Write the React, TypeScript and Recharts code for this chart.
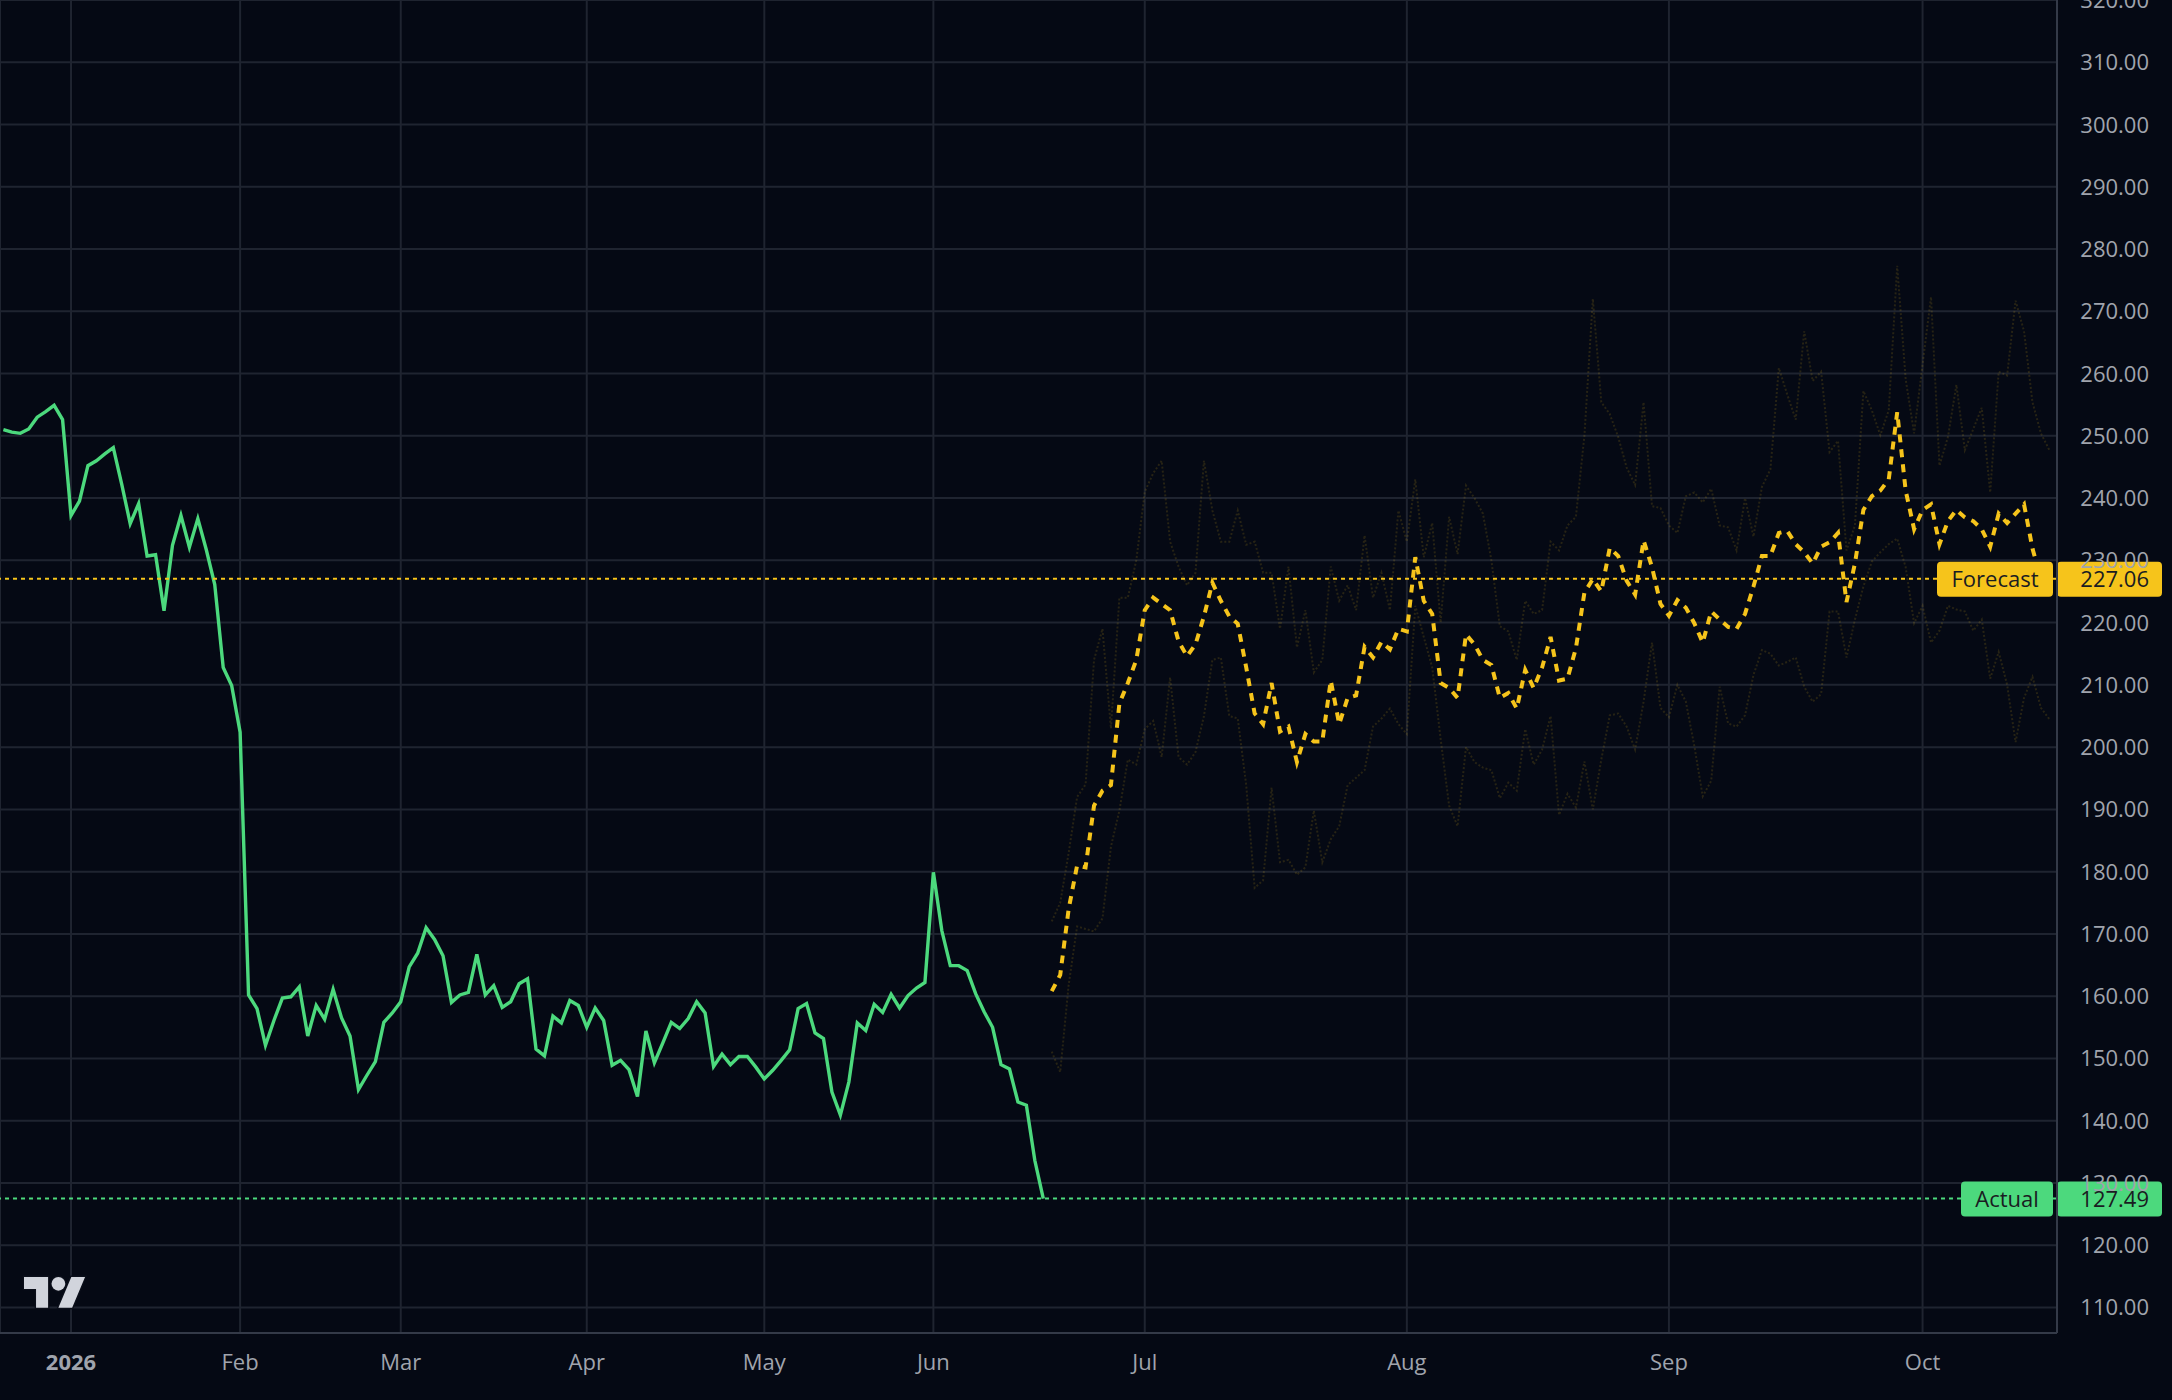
import React from 'react';
import { ComposedChart, Line, XAxis, YAxis, CartesianGrid, ReferenceLine } from 'recharts';

// Bar index based time axis (trading days for actual, calendar days for forecast)
const actualStartIndex = 0;
const actualValues = [
  251.0, 250.6, 250.4, 251.1, 253.0, 253.9, 254.9, 252.6, 237.2, 239.5,
  245.2, 246.0, 247.1, 248.1, 242.2, 235.9, 239.1, 230.7, 230.9, 221.9,
  232.4, 237.2, 232.1, 236.7, 231.7, 226.1, 212.8, 209.9, 202.4, 160.2,
  158.0, 152.1, 156.1, 159.7, 159.9, 161.5, 153.6, 158.5, 156.3, 161.1,
  156.5, 153.6, 145.0, 147.3, 149.5, 155.8, 157.3, 159.1, 164.7, 166.9,
  171.0, 169.1, 166.5, 159.0, 160.2, 160.6, 166.7, 160.2, 161.7, 158.2,
  159.1, 162.0, 162.8, 151.5, 150.4, 156.8, 155.7, 159.3, 158.5, 155.0,
  158.1, 156.1, 148.9, 149.7, 148.2, 143.9, 154.4, 149.3, 152.5, 155.8,
  154.8, 156.4, 159.1, 157.3, 148.7, 150.7, 149.0, 150.3, 150.3, 148.6,
  146.7, 148.1, 149.7, 151.4, 158.0, 158.8, 154.1, 153.2, 144.6, 140.9,
  146.2, 155.7, 154.5, 158.7, 157.4, 160.3, 158.1, 160.1, 161.3, 162.2,
  179.9, 170.5, 164.9, 164.9, 164.1, 160.4, 157.5, 155.0, 149.0, 148.3,
  143.0, 142.5, 133.6, 127.49,
];

const forecastStartIndex = 124;
const forecastValues = [
  160.8, 163.4, 174.0, 181.0, 180.7, 190.6, 193.0, 193.9, 207.0, 210.3,
  214.0, 222.0, 224.0, 223.0, 222.0, 217.0, 214.6, 216.5, 221.0, 226.4,
  223.5, 221.0, 219.8, 212.8, 205.4, 203.7, 210.3, 202.5, 203.3, 197.6,
  202.1, 200.9, 200.9, 210.7, 203.7, 207.9, 208.3, 216.1, 214.4, 216.9,
  215.7, 219.0, 218.6, 230.5, 223.5, 221.4, 210.3, 209.5, 207.9, 218.1,
  216.5, 214.0, 213.2, 207.9, 208.7, 206.2, 212.4, 209.5, 212.8, 217.7,
  210.7, 211.0, 215.9, 224.8, 227.0, 225.0, 232.0, 230.7, 226.7, 224.5,
  233.2, 228.9, 223.0, 221.1, 223.6, 222.4, 219.9, 216.8, 221.8, 220.5,
  219.3, 219.0, 221.4, 225.8, 230.7, 230.7, 234.4, 234.7, 232.6, 231.3,
  229.5, 232.2, 232.9, 234.4, 223.3, 229.5, 238.1, 240.3, 241.2, 243.0,
  253.8, 241.2, 235.0, 238.1, 239.0, 232.6, 236.3, 238.1, 236.9, 236.3,
  235.0, 232.2, 237.5, 236.0, 237.5, 239.0, 231.9, 227.06,
];

const bandStartIndex = 124;
const upperBand = [
  172.0, 175.0, 183.0, 192.0, 194.0, 214.0, 219.0, 203.0, 224.0, 224.0,
  230.0, 241.0, 244.0, 246.0, 233.0, 229.0, 226.0, 228.0, 246.0, 238.0,
  233.0, 233.0, 238.0, 232.5, 233.0, 228.0, 228.0, 219.0, 229.0, 216.0,
  222.0, 212.0, 214.0, 229.0, 223.5, 226.0, 222.0, 234.0, 224.0, 228.0,
  222.0, 238.0, 233.0, 243.0, 230.5, 236.0, 220.0, 237.0, 231.0, 242.0,
  240.0, 237.5, 230.0, 219.4, 218.6, 214.0, 223.5, 221.4, 222.0, 233.0,
  231.6, 235.6, 237.0, 250.0, 272.0, 255.4, 253.5, 249.8, 244.9, 242.1,
  255.4, 238.7, 238.4, 235.6, 234.4, 240.3, 240.9, 239.3, 241.5, 235.6,
  235.3, 231.6, 240.0, 233.8, 241.8, 244.6, 260.9, 256.6, 252.6, 266.8,
  258.8, 260.3, 247.4, 249.2, 231.6, 235.6, 257.2, 254.1, 250.1, 254.1,
  277.3, 259.1, 250.4, 261.5, 272.3, 245.2, 249.8, 258.2, 247.7, 251.1,
  254.5, 240.9, 260.3, 259.7, 271.7, 266.8, 255.4, 250.4, 247.7,
];
const lowerBand = [
  151.1, 147.8, 161.8, 171.2, 170.8, 170.4, 172.5, 184.0, 189.8, 198.0,
  197.2, 202.9, 204.2, 198.4, 211.2, 198.4, 197.2, 199.2, 205.0, 214.0,
  214.4, 205.0, 204.6, 193.9, 177.4, 178.6, 193.5, 181.5, 181.9, 179.5,
  180.7, 189.8, 181.5, 185.2, 187.3, 193.9, 195.1, 196.3, 203.3, 204.6,
  206.2, 203.7, 202.1, 222.7, 217.7, 212.8, 201.3, 190.6, 187.3, 200.0,
  197.6, 196.7, 196.3, 191.8, 194.3, 193.0, 202.9, 197.2, 199.6, 205.0,
  189.1, 192.5, 190.3, 197.7, 190.0, 198.0, 205.1, 205.4, 203.3, 199.6,
  207.3, 216.8, 206.3, 204.8, 210.0, 207.3, 200.2, 192.1, 194.6, 209.7,
  203.8, 203.3, 205.1, 211.6, 215.6, 215.0, 213.1, 213.7, 214.4, 209.7,
  207.3, 208.5, 221.8, 221.8, 214.4, 220.5, 225.8, 229.8, 231.3, 232.6,
  233.5, 228.9, 219.9, 222.7, 216.8, 218.7, 222.7, 222.1, 221.8, 218.7,
  220.5, 211.0, 215.3, 210.0, 200.8, 207.9, 211.3, 206.3, 204.5,
];

const monthTickIndex = [8, 28, 47, 69, 90, 110, 135, 166, 197, 227];
const monthTickLabels = ['2026', 'Feb', 'Mar', 'Apr', 'May', 'Jun', 'Jul', 'Aug', 'Sep', 'Oct'];
const priceTicks = [110, 120, 130, 140, 150, 160, 170, 180, 190, 200, 210, 220, 230, 240, 250, 260, 270, 280, 290, 300, 310, 320];

const lastActual = 127.49;
const lastForecast = 227.06;

const W = 2172;
const H = 1400;
const BG = '#050914';
const GRID = '#1f2430';
const AXIS = '#343a48';
const TEXT = '#a0a4ad';
const GREEN = '#4cd97d';
const YELLOW = '#f6c41b';
const FONT = '"Open Sans", "Noto Sans", sans-serif';

const lastIndex = bandStartIndex + upperBand.length - 1;
const data: any[] = [];
for (let i = 0; i <= lastIndex; i++) {
  const a = i - actualStartIndex;
  const f = i - forecastStartIndex;
  const b = i - bandStartIndex;
  data.push({
    i,
    actual: a >= 0 && a < actualValues.length ? actualValues[a] : null,
    forecast: f >= 0 && f < forecastValues.length ? forecastValues[f] : null,
    upper: b >= 0 && b < upperBand.length ? upperBand[b] : null,
    lower: b >= 0 && b < lowerBand.length ? lowerBand[b] : null,
  });
}

const XTick = (props: any) => {
  const { x, y, payload } = props;
  const k = monthTickIndex.indexOf(payload.value);
  const label = k >= 0 ? monthTickLabels[k] : '';
  return (
    <text x={x} y={y + 37} textAnchor="middle" fill={TEXT} fontSize={22}
      fontFamily={FONT} fontWeight={k === 0 ? 700 : 400}>
      {label}
    </text>
  );
};

const YTick = (props: any) => {
  const { x, y, payload } = props;
  return (
    <text x={x + 92} y={y + 8} textAnchor="end" fill={TEXT} fontSize={22} fontFamily={FONT}>
      {Number(payload.value).toFixed(2)}
    </text>
  );
};

const makeTag = (name: string, value: number, color: string, nameWidth: number) => (props: any) => {
  const vb = props.viewBox || {};
  const right = (vb.x || 0) + (vb.width || 0);
  const ly = vb.y || 0;
  const top = ly - 17;
  const h = 35;
  const nameX = right - 4 - nameWidth;
  return (
    <g>
      <rect x={nameX} y={top} width={nameWidth} height={h} rx={4} ry={4} fill={color} />
      <rect x={right} y={top} width={105} height={h} rx={4} ry={4} fill={color} />
      <text x={nameX + nameWidth / 2} y={ly + 8} textAnchor="middle" fill="#1a1c22"
        fontSize={22} fontFamily={FONT}>{name}</text>
      <text x={right + 92} y={ly + 8} textAnchor="end" fill="#1a1c22"
        fontSize={22} fontFamily={FONT}>{value.toFixed(2)}</text>
    </g>
  );
};

const Logo = () => (
  <svg width={W} height={H} style={{ position: 'absolute', left: 0, top: 0, pointerEvents: 'none' }}>
    <g transform="translate(24,1270) scale(1.72)">
      <path d="M14 22H7V11H0V4h14v18zM28 22h-8l7.5-18h8L28 22z" fill="#d1d4dc"
        stroke="#0b0f1a" strokeWidth={1.6} paintOrder="stroke" />
      <circle cx={20} cy={8} r={4} fill="#d1d4dc" stroke="#0b0f1a" strokeWidth={1.6} paintOrder="stroke" />
    </g>
  </svg>
);

export default function App() {
  return (
    <div style={{ position: 'absolute', left: 0, top: 0, width: W, height: H, background: BG, overflow: 'hidden' }}>
      <ComposedChart width={W} height={H} data={data} margin={{ top: 0, right: 0, bottom: 0, left: 0 }}>
        <CartesianGrid stroke={GRID} strokeWidth={2} />
        <XAxis type="number" dataKey="i" domain={[-0.4, 242.9]} allowDataOverflow
          ticks={monthTickIndex} interval={0} height={67} tickLine={false} tickSize={0} tickMargin={0}
          axisLine={{ stroke: AXIS, strokeWidth: 2 }} tick={<XTick />} />
        <YAxis type="number" orientation="right" domain={[105.9, 320]} allowDataOverflow
          ticks={priceTicks} interval={0} width={115} tickLine={false} tickSize={0} tickMargin={0}
          axisLine={{ stroke: AXIS, strokeWidth: 2 }} tick={<YTick />} />
        <Line type="linear" dataKey="upper" stroke={YELLOW} strokeOpacity={0.14} strokeWidth={2}
          strokeDasharray="2 2" dot={false} activeDot={false} isAnimationActive={false} />
        <Line type="linear" dataKey="lower" stroke={YELLOW} strokeOpacity={0.14} strokeWidth={2}
          strokeDasharray="2 2" dot={false} activeDot={false} isAnimationActive={false} />
        <Line type="linear" dataKey="actual" stroke={GREEN} strokeWidth={3.4} dot={false}
          activeDot={false} isAnimationActive={false} />
        <Line type="linear" dataKey="forecast" stroke={YELLOW} strokeWidth={4} strokeDasharray="8 7"
          dot={false} activeDot={false} isAnimationActive={false} />
        <ReferenceLine y={lastForecast} stroke={YELLOW} strokeWidth={2} strokeDasharray="4 4"
          label={makeTag('Forecast', lastForecast, YELLOW, 116)} />
        <ReferenceLine y={lastActual} stroke={GREEN} strokeWidth={2} strokeDasharray="4 4"
          label={makeTag('Actual', lastActual, GREEN, 92)} />
      </ComposedChart>
      <Logo />
    </div>
  );
}
